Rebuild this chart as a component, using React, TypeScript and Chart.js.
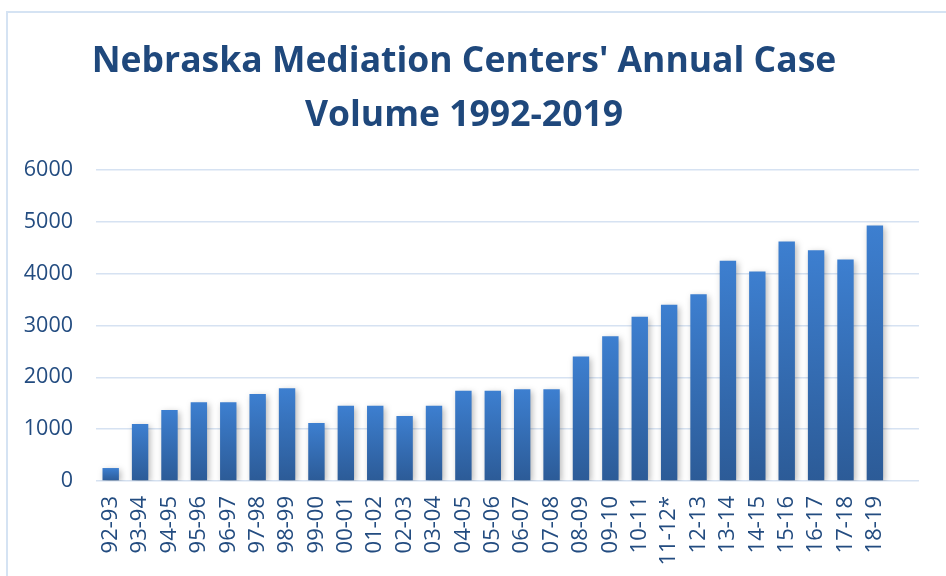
import React, { useEffect, useRef } from "react";
import { Chart, registerables } from "chart.js";

Chart.register(...registerables);

const categories = [
  "92-93", "93-94", "94-95", "95-96", "96-97", "97-98", "98-99", "99-00",
  "00-01", "01-02", "02-03", "03-04", "04-05", "05-06", "06-07", "07-08",
  "08-09", "09-10", "10-11", "11-12*", "12-13", "13-14", "14-15", "15-16",
  "16-17", "17-18", "18-19", "",
];

const caseVolume = [
  250, 1100, 1370, 1520, 1520, 1680, 1790, 1120,
  1450, 1450, 1255, 1450, 1740, 1740, 1770, 1770,
  2400, 2790, 3170, 3400, 3600, 4250, 4040, 4620,
  4450, 4270, 4930, null,
];

const titleLines = ["Nebraska Mediation Centers' Annual Case", "Volume 1992-2019"];
const yTicks = [0, 1000, 2000, 3000, 4000, 5000, 6000];

const shadowPlugin = {
  id: "barShadow",
  beforeDatasetsDraw(chart: any) {
    const ctx = chart.ctx;
    ctx.save();
    ctx.shadowColor = "rgba(0,0,0,0.28)";
    ctx.shadowBlur = 6;
    ctx.shadowOffsetX = 2;
    ctx.shadowOffsetY = 2;
  },
  afterDatasetsDraw(chart: any) {
    chart.ctx.restore();
  },
};

export default function App() {
  const ref = useRef<HTMLCanvasElement | null>(null);

  useEffect(() => {
    if (!ref.current) return;
    const chart = new Chart(ref.current, {
      type: "bar",
      data: {
        labels: categories,
        datasets: [
          {
            data: caseVolume as any,
            barPercentage: 0.558,
            categoryPercentage: 1,
            borderWidth: 0,
            backgroundColor: (c: any) => {
              const ch = c.chart;
              const ys = ch.scales && ch.scales.y;
              const v = c.raw;
              if (!ch.chartArea || !ys || v == null) return "#3A76C4";
              const top = ys.getPixelForValue(v);
              const bottom = ys.getPixelForValue(0);
              const g = ch.ctx.createLinearGradient(0, top, 0, bottom);
              g.addColorStop(0, "#3D7FD0");
              g.addColorStop(1, "#2C5B97");
              return g;
            },
          },
        ],
      },
      options: {
        animation: false,
        responsive: false,
        maintainAspectRatio: false,
        layout: { padding: { left: 0, right: 18, top: 0, bottom: 0 } },
        plugins: {
          legend: { display: false },
          tooltip: { enabled: false },
          title: {
            display: true,
            text: titleLines,
            color: "#1F487C",
            font: { family: "'Open Sans', sans-serif", size: 35.5, weight: "bold", lineHeight: 1.5 },
            padding: { top: 35.6, bottom: 27.8 },
          },
        },
        scales: {
          x: {
            grid: { display: false, drawTicks: false },
            border: { display: false },
            ticks: {
              color: "#234C80",
              font: { family: "'Open Sans', sans-serif", size: 22 },
              maxRotation: 90,
              minRotation: 90,
              padding: 15,
              autoSkip: false,
            },
            afterFit: (s: any) => {
              s.height = 95;
            },
          },
          y: {
            min: 0,
            max: 6000,
            afterBuildTicks: (s: any) => {
              s.ticks = yTicks.map((v) => ({ value: v }));
            },
            grid: { color: "#D6E2F2", lineWidth: 1.5, drawTicks: false },
            border: { display: false },
            ticks: {
              color: "#234C80",
              font: { family: "'Open Sans', sans-serif", size: 21.5 },
              padding: 23,
              callback: (v: any) => String(v),
            },
            afterFit: (s: any) => {
              s.width = 96;
            },
          },
        },
      },
      plugins: [shadowPlugin],
    });
    return () => chart.destroy();
  }, []);

  return (
    <div style={{ position: "absolute", left: 0, top: 0, width: 946, height: 576, background: "#fff", overflow: "hidden" }}>
      <div
        style={{
          position: "absolute",
          left: 6,
          top: 11,
          width: 960,
          height: 600,
          borderLeft: "2px solid #D5E3F3",
          borderTop: "2px solid #D5E3F3",
        }}
      />
      <canvas ref={ref} width={946} height={576} style={{ position: "absolute", left: 0, top: 0 }} />
    </div>
  );
}
